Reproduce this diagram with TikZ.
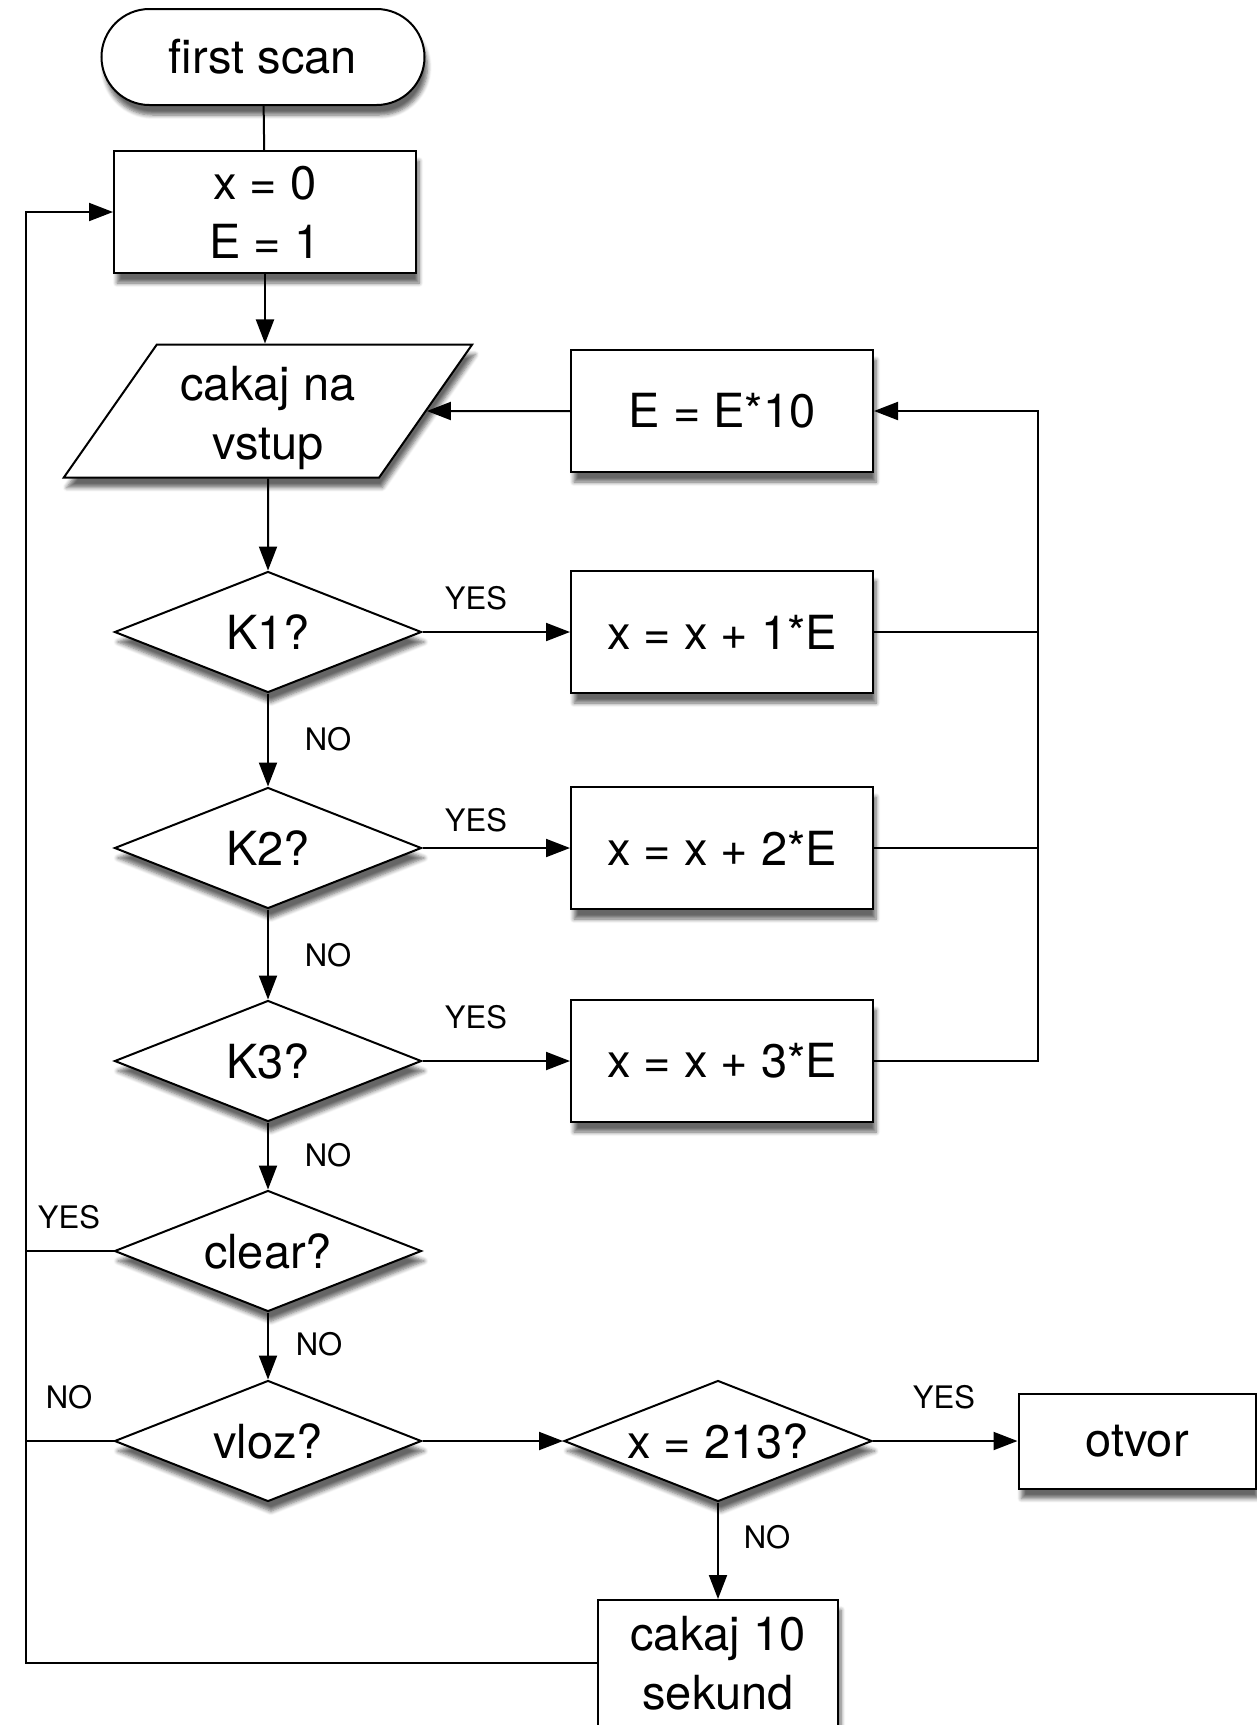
\documentclass[tikz,border=0pt]{standalone}
\usepackage{fontspec}
\setmainfont{TeX Gyre Heros}
\usepackage{tikz}
\usetikzlibrary{shapes.geometric,shadows.blur,arrows.meta}

\tikzset{
  base/.style={draw, line width=1pt, fill=white, inner sep=0pt, align=center,
    font=\fontsize{23.5}{29.5}\selectfont,
    blur shadow={shadow xshift=1.5pt, shadow yshift=-5pt, shadow blur steps=6, shadow opacity=60}},
  term/.style={base, rectangle, rounded corners=24pt, minimum width=161.5pt, minimum height=48pt},
  proc/.style={base, rectangle, minimum width=151pt, minimum height=61pt},
  decide/.style={base, diamond, aspect=2.54, minimum width=153.5pt, minimum height=60.5pt},
  io/.style={base, trapezium, trapezium left angle=58, trapezium right angle=122,
    trapezium stretches=true, minimum width=204.5pt, minimum height=66.5pt},
  lbl/.style={font=\fontsize{15.5}{18}\selectfont, inner sep=0pt},
  arr/.style={-{Triangle[length=12pt,width=9pt]}},
}

\begin{document}
\begin{tikzpicture}[x=0.5pt, y=-0.5pt, line width=1pt]
\useasboundingbox (0,0) rectangle (1257,1725);
\node[term] (start) at (263,57) {first scan};
\node[proc] (init) at (265,212) {x = 0\\E = 1};
\node[io] (input) at (268,411) {\rule{0pt}{24pt}cakaj na\\vstup};
\node[proc] (e10) at (722,411) {E = E*10};
\node[decide] (k1) at (268,632) {K1?};
\node[decide] (k2) at (268,848) {K2?};
\node[decide] (k3) at (268,1061) {K3?};
\node[proc] (add1) at (722,632) {x = x + 1*E};
\node[proc] (add2) at (722,848) {x = x + 2*E};
\node[proc] (add3) at (722,1061) {x = x + 3*E};
\node[decide] (clear) at (268,1251) {clear?};
\node[decide] (vloz) at (268,1441) {vloz?};
\node[decide, minimum width=154pt] (check) at (718,1441) {x = 213?};
\node[proc, minimum width=118.5pt, minimum height=47.5pt] (otvor) at (1137,1441) {otvor};
\node[proc, minimum width=120pt, minimum height=63pt] (wait) at (718,1663) {cakaj 10\\sekund};
\coordinate (lft) at (26,212);
\coordinate (rgt) at (1038,411);

\draw (start) -- (init);
\draw[arr] (init.south) -- (init.south |- input.north);
\draw[arr] (input.south) -- (k1.north);
\draw[arr] (k1.south) -- (k2.north);
\draw[arr] (k2.south) -- (k3.north);
\draw[arr] (k3.south) -- (clear.north);
\draw[arr] (clear.south) -- (vloz.north);
\draw[arr] (k1.east) -- (add1.west);
\draw[arr] (k2.east) -- (add2.west);
\draw[arr] (k3.east) -- (add3.west);
\draw (add1.east) -- (add1.east -| rgt);
\draw (add2.east) -- (add2.east -| rgt);
\draw[arr] (add3.east) -| (rgt) -- (e10.east);
\draw[arr] (e10.west) -- (input.east);
\draw (clear.west) -- (clear.west -| lft);
\draw (vloz.west) -- (vloz.west -| lft);
\draw[arr] (wait.west) -| (lft) -- (init.west);
\draw[arr] (vloz.east) -- (check.west);
\draw[arr] (check.east) -- (otvor.west);
\draw[arr] (check.south) -- (wait.north);

\node[lbl] (yes1) at (476,598) {YES};
\node[lbl] (no1) at (328,739) {NO};
\node[lbl] (yes2) at (476,820) {YES};
\node[lbl] (no2) at (328,955) {NO};
\node[lbl] (yes3) at (476,1017) {YES};
\node[lbl] (no3) at (328,1155) {NO};
\node[lbl] (yes4) at (69,1217) {YES};
\node[lbl] (no4) at (319,1344) {NO};
\node[lbl] (no5) at (69,1397) {NO};
\node[lbl] (yes5) at (944,1397) {YES};
\node[lbl] (no6) at (767,1537) {NO};
\end{tikzpicture}
\end{document}
